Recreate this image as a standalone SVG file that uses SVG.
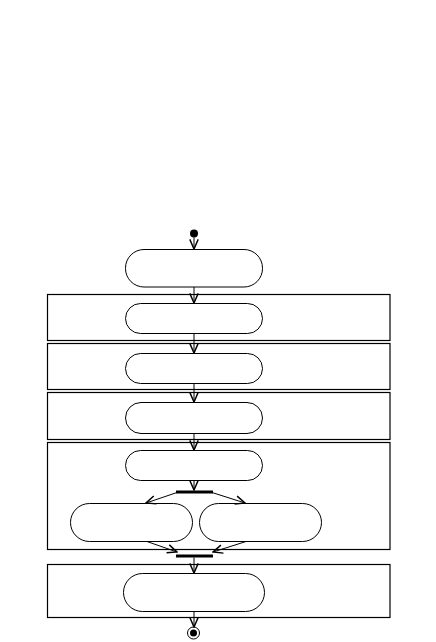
<svg xmlns="http://www.w3.org/2000/svg" width="436" height="642" viewBox="0 0 436 642">
<style>
.lane{fill:none;stroke:#000;stroke-width:1.2}
.act{fill:#fff;stroke:#000;stroke-width:1}
.bar{fill:#000}
.edge{fill:none;stroke:#000;stroke-width:1;marker-end:url(#arr)}
</style>
<defs>
<marker id="arr" markerUnits="userSpaceOnUse" markerWidth="12" markerHeight="12" viewBox="-9 -5 10 10" refX="0" refY="0" orient="auto">
<path d="M-8,-3.5 L0,0 L-8,3.5" fill="none" stroke="#000" stroke-width="1.2"/>
</marker>
</defs>
<rect width="436" height="642" fill="#fff"/>
<g id="lanes">
<rect id="lane1" class="lane" x="47.5" y="294.5" width="342.5" height="46"/>
<rect id="lane2" class="lane" x="47.5" y="343.5" width="342.5" height="46"/>
<rect id="lane3" class="lane" x="47.5" y="392.5" width="342.5" height="47"/>
<rect id="lane4" class="lane" x="47.5" y="442.5" width="342.5" height="107"/>
<rect id="lane5" class="lane" x="47.5" y="564.5" width="342.5" height="53"/>
</g>
<g id="start"><circle cx="194" cy="233.5" r="4" fill="#000"/></g>
<g id="act1"><rect class="act" x="125.5" y="249.5" width="137" height="37.5" rx="18.5"/></g>
<g id="act2"><rect class="act" x="125.5" y="303.5" width="137" height="30" rx="15"/></g>
<g id="act3"><rect class="act" x="125.5" y="353.5" width="137" height="30" rx="15"/></g>
<g id="act4"><rect class="act" x="125.5" y="402.5" width="137" height="31" rx="15.5"/></g>
<g id="act5"><rect class="act" x="125.5" y="450.5" width="137" height="30" rx="15"/></g>
<g id="fork"><rect class="bar" x="176" y="490.5" width="37" height="3"/></g>
<g id="act6"><rect class="act" x="70.5" y="503.5" width="122" height="38" rx="19"/></g>
<g id="act7"><rect class="act" x="199.5" y="503.5" width="122" height="38" rx="19"/></g>
<g id="join"><rect class="bar" x="176" y="554.5" width="37" height="3"/></g>
<g id="act8"><rect class="act" x="123.5" y="573.5" width="141" height="38" rx="19"/></g>
<g id="end"><circle cx="193.5" cy="633" r="6" fill="#fff" stroke="#000" stroke-width="1"/><circle cx="193.5" cy="633" r="3.5" fill="#000"/></g>
<g id="connectors">
<line class="edge" x1="194" y1="237.5" x2="194" y2="249"/>
<line class="edge" x1="194" y1="287" x2="194" y2="303"/>
<line class="edge" x1="194" y1="333.5" x2="194" y2="353"/>
<line class="edge" x1="194" y1="383.5" x2="194" y2="402"/>
<line class="edge" x1="194" y1="433.5" x2="194" y2="450"/>
<line class="edge" x1="194" y1="480.5" x2="194" y2="490"/>
<line class="edge" x1="177" y1="492.5" x2="146" y2="503"/>
<line class="edge" x1="212" y1="492.5" x2="245" y2="503"/>
<line class="edge" x1="147" y1="541.5" x2="177" y2="552"/>
<line class="edge" x1="246" y1="541.5" x2="213" y2="552"/>
<line class="edge" x1="194" y1="557.5" x2="194" y2="573"/>
<line class="edge" x1="194" y1="611.5" x2="194" y2="627"/>
</g>
</svg>
